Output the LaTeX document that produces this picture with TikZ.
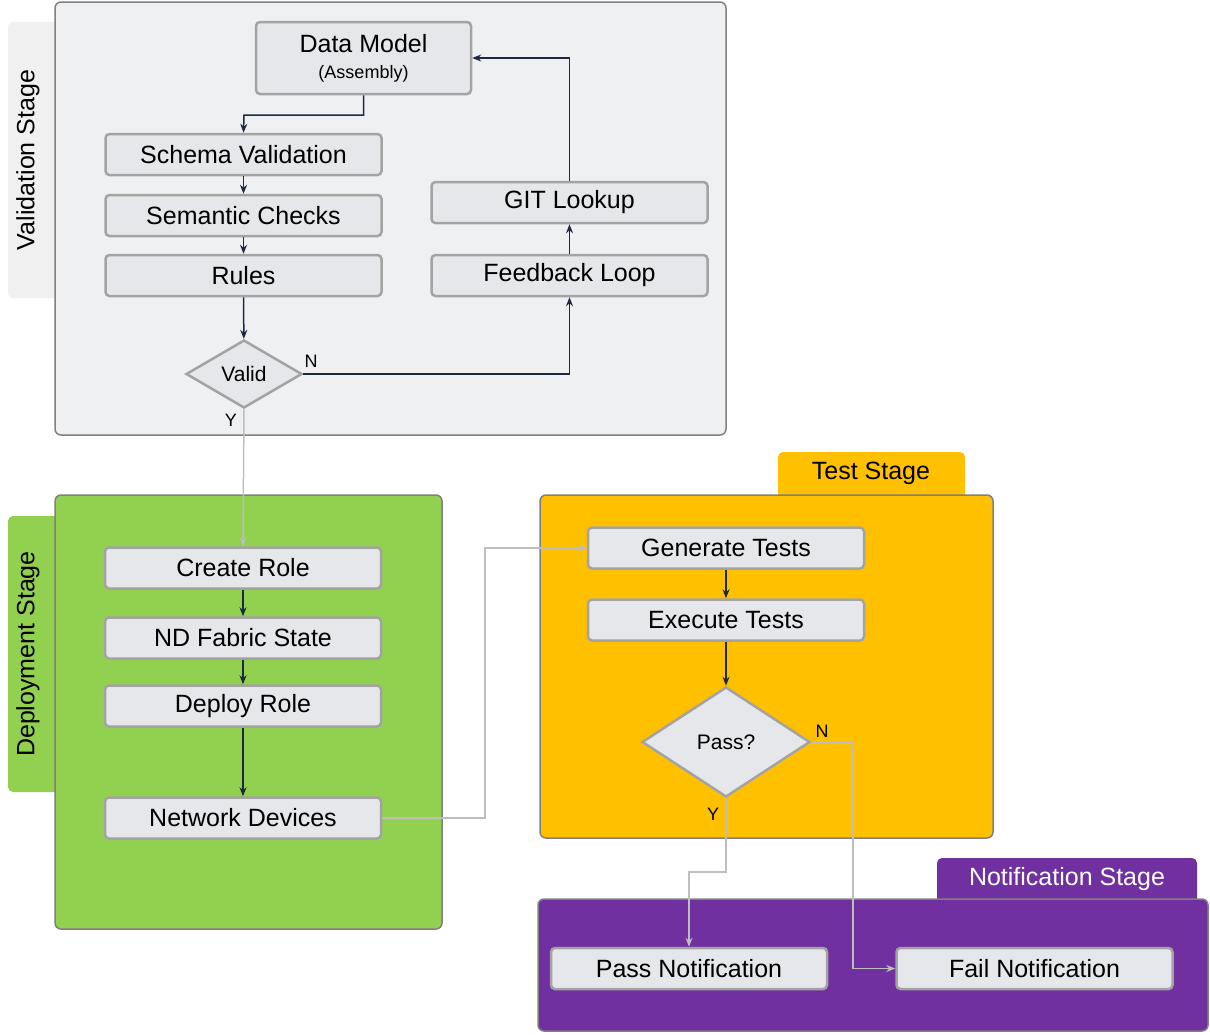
\documentclass[tikz,border=0pt]{standalone}
\usepackage{fontspec}
\setmainfont{Liberation Sans}
\usetikzlibrary{arrows.meta, shapes.geometric}
\definecolor{boxgray}{HTML}{E6E7EA}
\definecolor{linegray}{HTML}{A3A3A3}
\definecolor{navy}{HTML}{1C2940}
\definecolor{stagegray}{HTML}{EFF0F2}
\definecolor{deploygreen}{HTML}{92D050}
\definecolor{testamber}{HTML}{FFC000}
\definecolor{notifpurple}{HTML}{7030A0}

\begin{document}
\begin{tikzpicture}[x=1pt, y=-1pt,
    stepbox/.style={draw=linegray, line width=2.5pt, fill=boxgray, rounded corners=4pt, minimum width=276pt, minimum height=41pt, inner sep=0pt, font=\fontsize{25}{28}\selectfont},
    check/.style={diamond, aspect=1.7, draw=linegray, line width=2.5pt, fill=boxgray, inner sep=0pt, font=\fontsize{21}{24}\selectfont},
    stage/.style={draw=gray, line width=1.5pt, rounded corners=6pt},
    tab/.style={rounded corners=5pt, font=\fontsize{25}{28}\selectfont},
    flow/.style={navy, line width=1.5pt, -{Stealth[length=9pt,width=7pt]}},
    ghost/.style={linegray!70, line width=1.5pt, -{Stealth[length=9pt,width=7pt]}},
    yn/.style={font=\fontsize{18}{20}\selectfont}]
    \useasboundingbox (0,0) rectangle (1210,1034);

    % stages
    \fill[stagegray!80!gray!40, rounded corners=5pt] (8,22) rectangle (70,298);
    \node[rotate=90, tab] at (28,160) {Validation Stage};
    \draw[stage, fill=stagegray] (55,2) rectangle (726,435);

    \fill[deploygreen, rounded corners=5pt] (8,516) rectangle (70,792);
    \node[rotate=90, tab] at (28,654) {Deployment Stage};
    \draw[stage, fill=deploygreen] (55,495) rectangle (442,929);

    \fill[testamber, rounded corners=5pt] (778,452) rectangle (965,510);
    \node[tab] at (871,473) {Test Stage};
    \draw[stage, fill=testamber] (540,495) rectangle (993,838);

    \fill[notifpurple, rounded corners=5pt] (937,858) rectangle (1197,910);
    \node[tab, text=white] at (1067,879) {Notification Stage};
    \draw[stage, fill=notifpurple] (538,899) rectangle (1208,1031);

    % validation
    \node[stepbox, minimum width=215pt, minimum height=72pt, align=center] (model) at (363.5,58)
        {Data Model\\[-2pt]{\fontsize{18}{20}\selectfont (Assembly)}};
    \node[stepbox] (schema) at (243.5,154.5) {Schema Validation};
    \node[stepbox] (semantic) at (243.5,215.5) {Semantic Checks};
    \node[stepbox] (rules) at (243.5,275.5) {Rules};
    \node[stepbox] (git) at (569.5,202.5) {GIT Lookup};
    \node[stepbox] (feedback) at (569.5,275.5) {Feedback Loop};
    \node[check, minimum width=116pt, minimum height=68pt] (valid) at (244,374) {Valid};

    \draw[flow] (model.south) |- (244,115) -- (schema.north);
    \draw[flow] (schema) -- (semantic);
    \draw[flow] (semantic) -- (rules);
    \draw[flow] (rules) -- (valid);
    \draw[flow] (valid.east) -| (feedback.south);
    \draw[flow] (feedback) -- (git);
    \draw[flow] (git.north) |- (model.east);
    \node[yn] at (311,361) {N};
    \node[yn] at (231,420) {Y};

    % deployment
    \node[stepbox] (role) at (243,568) {Create Role};
    \node[stepbox] (fabric) at (243,638) {ND Fabric State};
    \node[stepbox] (deploy) at (243,706) {Deploy Role};
    \node[stepbox] (devices) at (243,818) {Network Devices};

    \draw[ghost] (valid.south) -- (role.north);
    \draw[flow] (role) -- (fabric);
    \draw[flow] (fabric) -- (deploy);
    \draw[flow] (deploy) -- (devices);

    % test
    \node[stepbox] (generate) at (726,548) {Generate Tests};
    \node[stepbox] (execute) at (726,620) {Execute Tests};
    \node[check, minimum width=168pt, minimum height=110pt] (pass) at (726,742) {Pass?};

    \draw[ghost] (devices.east) -- (485,818) |- (generate.west);
    \draw[flow] (generate) -- (execute);
    \draw[flow] (execute) -- (pass);
    \node[yn] at (822,731) {N};
    \node[yn] at (713,814) {Y};

    % notification
    \node[stepbox] (passnote) at (689,968.5) {Pass Notification};
    \node[stepbox] (failnote) at (1034.5,968.5) {Fail Notification};

    \draw[ghost] (pass.south) -- (726,872) -| (passnote.north);
    \draw[ghost] (pass.east) -- (853,742) |- (failnote.west);
\end{tikzpicture}
\end{document}
